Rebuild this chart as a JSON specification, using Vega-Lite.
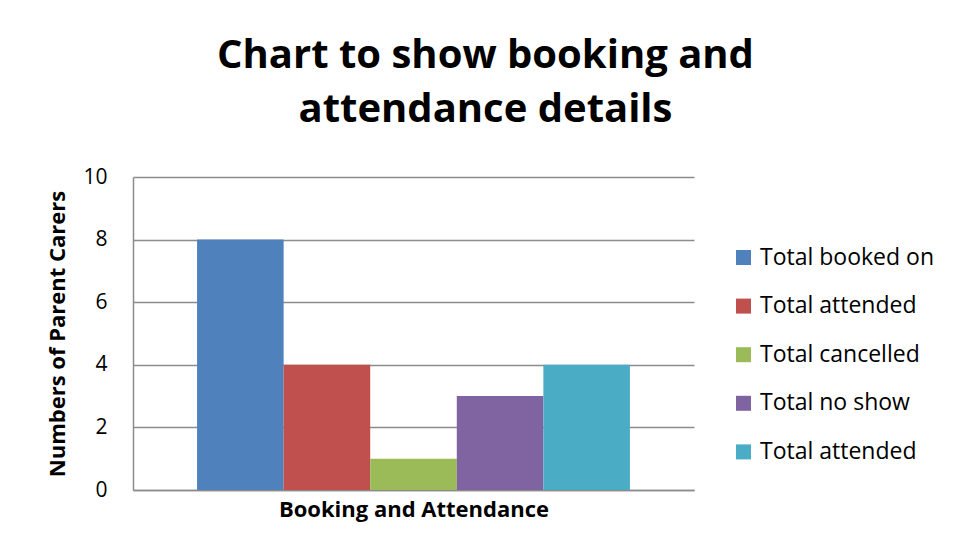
{
  "$schema": "https://vega.github.io/schema/vega-lite/v6.json",
  "width": 561,
  "height": 313,
  "autosize": {"type": "none"},
  "padding": {"left": 133, "top": 177, "right": 263, "bottom": 67},
  "background": "white",
  "title": {
    "text": ["Chart to show booking and", "attendance details"],
    "font": "Open Sans",
    "fontSize": 40,
    "fontWeight": "bold",
    "color": "#000000",
    "lineHeight": 54,
    "anchor": "middle",
    "dx": 72,
    "offset": 36
  },
  "data": {
    "values": [
      {"series": "s1", "name": "Total booked on", "count": 8},
      {"series": "s2", "name": "Total attended", "count": 4},
      {"series": "s3", "name": "Total cancelled", "count": 1},
      {"series": "s4", "name": "Total no show", "count": 3},
      {"series": "s5", "name": "Total attended", "count": 4}
    ]
  },
  "mark": {"type": "bar"},
  "encoding": {
    "x": {
      "field": "series",
      "type": "nominal",
      "sort": ["s1", "s2", "s3", "s4", "s5"],
      "scale": {"paddingInner": 0, "paddingOuter": 0.74},
      "axis": {
        "title": "Booking and Attendance",
        "labels": false,
        "ticks": false,
        "domain": true,
        "domainColor": "#8c8c8c",
        "domainWidth": 1.5,
        "titleFont": "Open Sans",
        "titleFontSize": 22,
        "titleFontWeight": "bold",
        "titleColor": "#000000",
        "titlePadding": 9
      }
    },
    "y": {
      "field": "count",
      "type": "quantitative",
      "scale": {"domain": [0, 10]},
      "axis": {
        "title": "Numbers of Parent Carers",
        "values": [0, 2, 4, 6, 8, 10],
        "ticks": false,
        "tickSize": 0,
        "labelPadding": 26,
        "labelFont": "Open Sans",
        "labelFontSize": 21,
        "labelColor": "#000000",
        "domain": true,
        "domainColor": "#8c8c8c",
        "domainWidth": 1.5,
        "grid": true,
        "gridColor": "#8c8c8c",
        "gridWidth": 1.5,
        "titleFont": "Open Sans",
        "titleFontSize": 22,
        "titleFontWeight": "bold",
        "titleColor": "#000000",
        "titlePadding": 13
      }
    },
    "color": {
      "field": "series",
      "type": "nominal",
      "sort": ["s1", "s2", "s3", "s4", "s5"],
      "scale": {
        "domain": ["s1", "s2", "s3", "s4", "s5"],
        "range": ["#4F81BD", "#C0504D", "#9BBB59", "#8064A2", "#4BACC6"]
      },
      "legend": {
        "title": null,
        "orient": "none",
        "legendX": 599,
        "legendY": 69,
        "symbolType": "square",
        "symbolSize": 225,
        "symbolStrokeWidth": 0,
        "labelFont": "Open Sans",
        "labelFontSize": 23,
        "labelColor": "#000000",
        "labelOffset": 5,
        "labelLimit": 400,
        "rowPadding": 24.6,
        "labelExpr": "datum.value == 's1' ? 'Total booked on' : datum.value == 's2' ? 'Total attended' : datum.value == 's3' ? 'Total cancelled' : datum.value == 's4' ? 'Total no show' : 'Total attended'"
      }
    }
  },
  "config": {
    "view": {"stroke": null}
  }
}
